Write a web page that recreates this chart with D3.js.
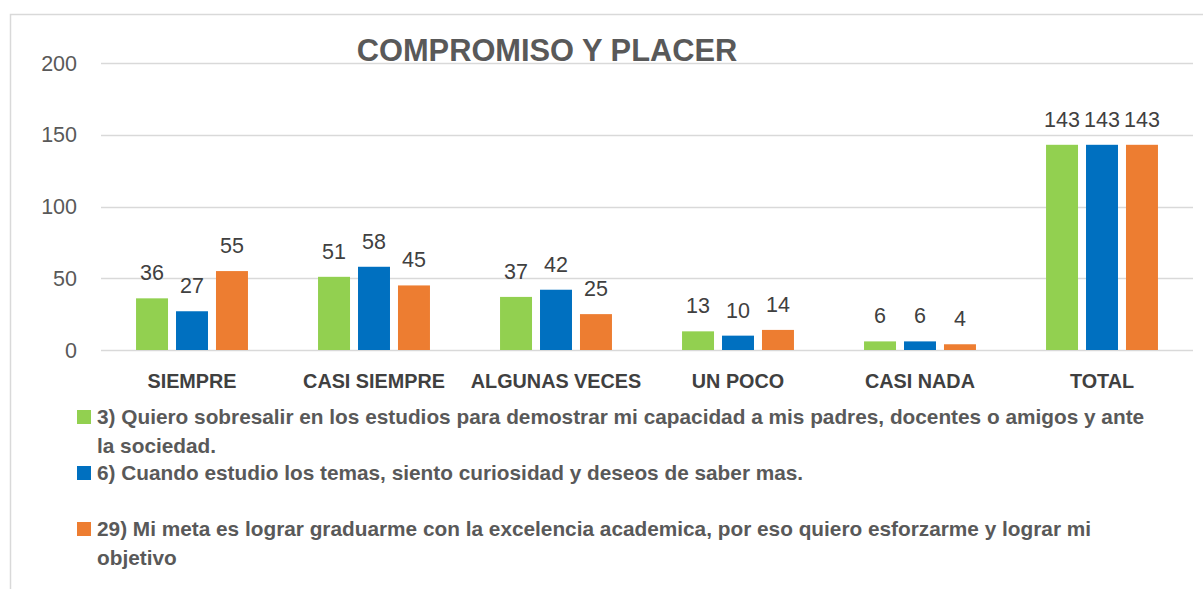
<!DOCTYPE html>
<html>
<head>
<meta charset="utf-8">
<script src="https://cdn.jsdelivr.net/npm/d3@7"></script>
<style>
  body { margin: 0; background: #fff; }
  svg { display: block; font-family: "Liberation Sans", Arial, sans-serif; }
</style>
</head>
<body>
<div id="chart"></div>
<script>
// data
var categories = ["SIEMPRE", "CASI SIEMPRE", "ALGUNAS VECES", "UN POCO", "CASI NADA", "TOTAL"]
var seriesNames = [
  "3) Quiero sobresalir en los estudios para demostrar mi capacidad a mis padres, docentes o amigos y ante la sociedad.",
  "6) Cuando estudio los temas, siento curiosidad y deseos de saber mas.",
  "29) Mi meta es lograr graduarme con la excelencia academica, por eso quiero esforzarme y lograr mi objetivo"
]
var q3 = [36, 51, 37, 13, 6, 143]
var q6 = [27, 58, 42, 10, 6, 143]
var q29 = [55, 45, 25, 14, 4, 143]
var yTicks = [0, 50, 100, 150, 200]
var colors = ["#92D050", "#0070C0", "#ED7D31"]

var seriesValues = [q3, q6, q29]

const width = 1203, height = 589

const svg = d3.select("#chart").append("svg")
  .attr("width", width)
  .attr("height", height)

// chart area border
svg.append("path")
  .attr("d", "M10.5," + height + "V14.5H" + width)
  .attr("fill", "none")
  .attr("stroke", "#d9d9d9")
  .attr("stroke-width", 1.5)

const plotLeft = 101, plotRight = 1193, plotTop = 63, plotBottom = 350

const y = d3.scaleLinear().domain([0, 200]).range([plotBottom, plotTop])

const x0 = d3.scaleBand()
  .domain(categories)
  .range([plotLeft, plotRight])
  .paddingInner(0.385)
  .paddingOuter(0.1925)

const x1 = d3.scaleBand()
  .domain(d3.range(3))
  .range([0, x0.bandwidth()])
  .paddingInner(0.2)

// gridlines
svg.append("g")
  .selectAll("line")
  .data(yTicks)
  .join("line")
  .attr("x1", plotLeft)
  .attr("x2", plotRight)
  .attr("y1", d => Math.round(y(d)) + 0.5)
  .attr("y2", d => Math.round(y(d)) + 0.5)
  .attr("stroke", "#d9d9d9")
  .attr("stroke-width", 1.5)

// y axis labels
svg.append("g")
  .selectAll("text")
  .data(yTicks)
  .join("text")
  .attr("x", 77)
  .attr("y", d => y(d))
  .attr("dy", "0.36em")
  .attr("text-anchor", "end")
  .attr("fill", "#595959")
  .style("font-size", "21.5px")
  .text(d => d)

// title
svg.append("text")
  .attr("x", 547)
  .attr("y", 61)
  .attr("text-anchor", "middle")
  .attr("fill", "#595959")
  .style("font-size", "30.8px")
  .style("font-weight", "bold")
  .text("COMPROMISO Y PLACER")

// bars
const groups = svg.append("g")
  .selectAll("g")
  .data(categories)
  .join("g")
  .attr("transform", d => `translate(${x0(d)},0)`)

const cells = groups.selectAll("g")
  .data((c, i) => seriesValues.map((s, k) => ({ k: k, v: s[i] })))
  .join("g")

cells.append("rect")
  .attr("x", d => x1(d.k))
  .attr("y", d => y(d.v))
  .attr("width", x1.bandwidth())
  .attr("height", d => y(0) - y(d.v))
  .attr("fill", d => colors[d.k])

cells.append("text")
  .attr("x", d => x1(d.k) + x1.bandwidth() / 2)
  .attr("y", d => y(d.v) - 18)
  .attr("text-anchor", "middle")
  .attr("fill", "#404040")
  .style("font-size", "21.5px")
  .text(d => d.v)

// category labels
svg.append("g")
  .selectAll("text")
  .data(categories)
  .join("text")
  .attr("x", d => x0(d) + x0.bandwidth() / 2)
  .attr("y", 388)
  .attr("text-anchor", "middle")
  .attr("fill", "#404040")
  .style("font-size", "19.8px")
  .style("font-weight", "bold")
  .text(d => d)

// legend
var wrap = function (text, maxWidth) {
  text.each(function () {
    var t = d3.select(this)
    var words = t.text().split(/\s+/)
    var x = t.attr("x")
    t.text(null)
    var line = []
    var tspan = t.append("tspan").attr("x", x).attr("dy", 0)
    words.forEach(function (w) {
      line.push(w)
      tspan.text(line.join(" "))
      if (tspan.node().getComputedTextLength() > maxWidth && line.length > 1) {
        line.pop()
        tspan.text(line.join(" "))
        line = [w]
        tspan = t.append("tspan").attr("x", x).attr("dy", 29).text(w)
      }
    })
  })
}

var legendY = [424, 480, 536]

const legend = svg.append("g")
  .selectAll("g")
  .data(seriesNames)
  .join("g")

legend.append("rect")
  .attr("x", 77)
  .attr("y", (d, i) => legendY[i] - 14)
  .attr("width", 14)
  .attr("height", 14)
  .attr("fill", (d, i) => colors[i])

legend.append("text")
  .attr("x", 97)
  .attr("y", (d, i) => legendY[i])
  .attr("fill", "#595959")
  .style("font-size", "20.8px")
  .style("font-weight", "bold")
  .text(d => d)
  .call(wrap, 1054)
</script>
</body>
</html>
